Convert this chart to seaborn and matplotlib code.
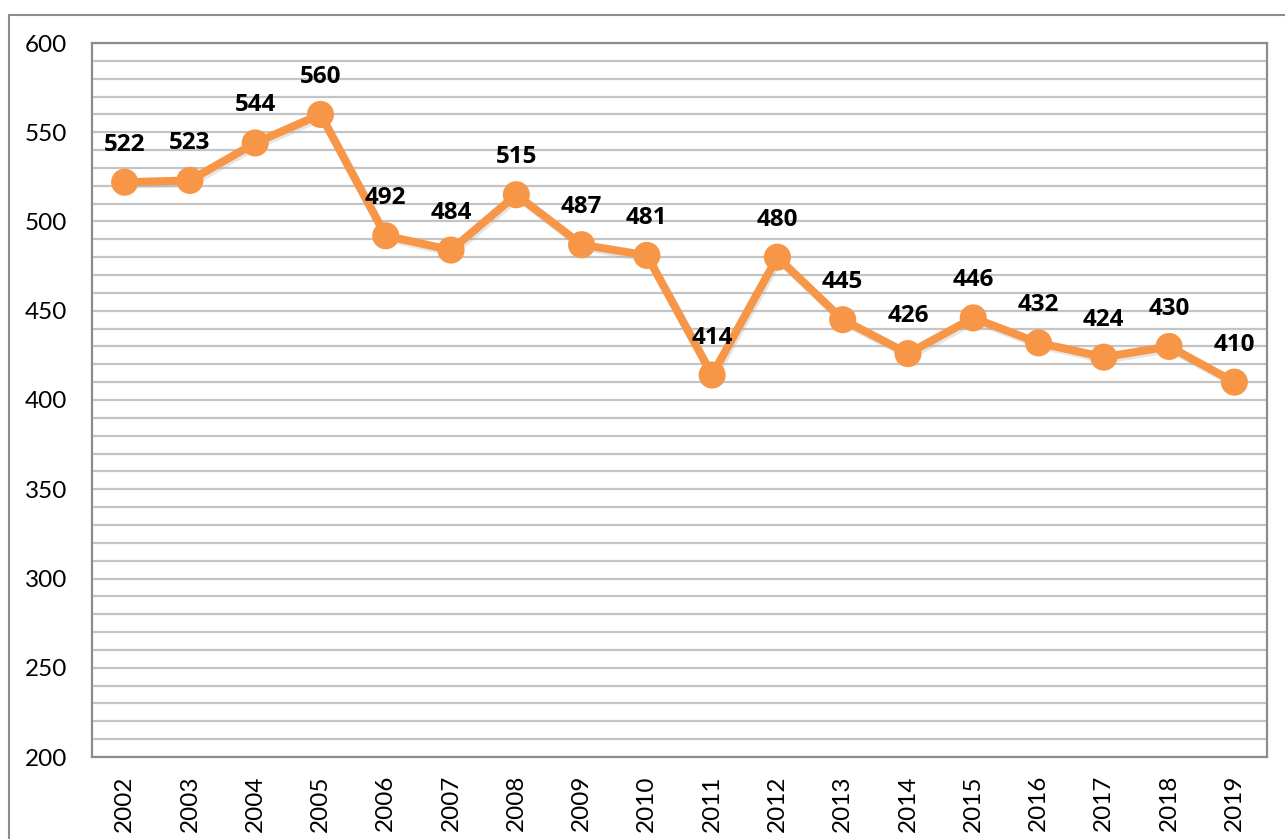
import numpy as np
import pandas as pd
import matplotlib.pyplot as plt
import matplotlib.patheffects as pe
from matplotlib.patches import Rectangle
from matplotlib.ticker import MultipleLocator
import seaborn as sns

years = ['2002', '2003', '2004', '2005', '2006', '2007', '2008', '2009', '2010',
         '2011', '2012', '2013', '2014', '2015', '2016', '2017', '2018', '2019']
values = [522, 523, 544, 560, 492, 484, 515, 487, 481,
          414, 480, 445, 426, 446, 432, 424, 430, 410]

df = pd.DataFrame({'year': years, 'value': values})

sns.set_style('white')
plt.rcParams['font.family'] = ['Lato', 'DejaVu Sans']

orange = '#F79646'
fig = plt.figure(figsize=(12.85, 8.39), dpi=100)
ax = fig.add_axes([92 / 1285, 1 - 757 / 839, 1175 / 1285, 714 / 839])

shadow = [pe.SimpleLineShadow(offset=(1.2, -1.8), shadow_color='#aaaaaa', alpha=0.3), pe.Normal()]
sns.lineplot(df, x='year', y='value', ax=ax, color=orange, lw=5.8, marker='o',
             markersize=19.5, markeredgewidth=0, sort=False, zorder=3,
             path_effects=shadow)

for i, v in enumerate(values):
    ax.annotate(str(v), (i, v), xytext=(0, 27), textcoords='offset points',
                ha='center', va='center', fontsize=17.5, fontweight='bold',
                family=['Open Sans', 'DejaVu Sans'], color='black', zorder=4)

ax.set_xlim(-0.5, len(years) - 0.5)
ax.set_ylim(200, 600)
ax.yaxis.set_major_locator(MultipleLocator(50))
ax.yaxis.set_minor_locator(MultipleLocator(10))
ax.grid(which='both', axis='y', color='#c4c4c4', lw=1.6, zorder=0)
ax.set_axisbelow(True)
ax.set_xlabel('')
ax.set_ylabel('')
ax.tick_params(axis='y', which='both', length=0, pad=18, labelsize=17.5, labelcolor='black')
ax.tick_params(axis='x', length=0, pad=13, labelsize=17.5, rotation=90, labelcolor='black')
for s in ax.spines.values():
    s.set_color('#8c8c8c')
    s.set_linewidth(1.6)
    s.set_visible(True)

fig.patches.append(Rectangle((9 / 1285, -0.1), 1.2, 1.1 - 15 / 839,
                             transform=fig.transFigure, fill=False,
                             edgecolor='#8c8c8c', lw=1.5))

fig.savefig('out.png', dpi=100)
